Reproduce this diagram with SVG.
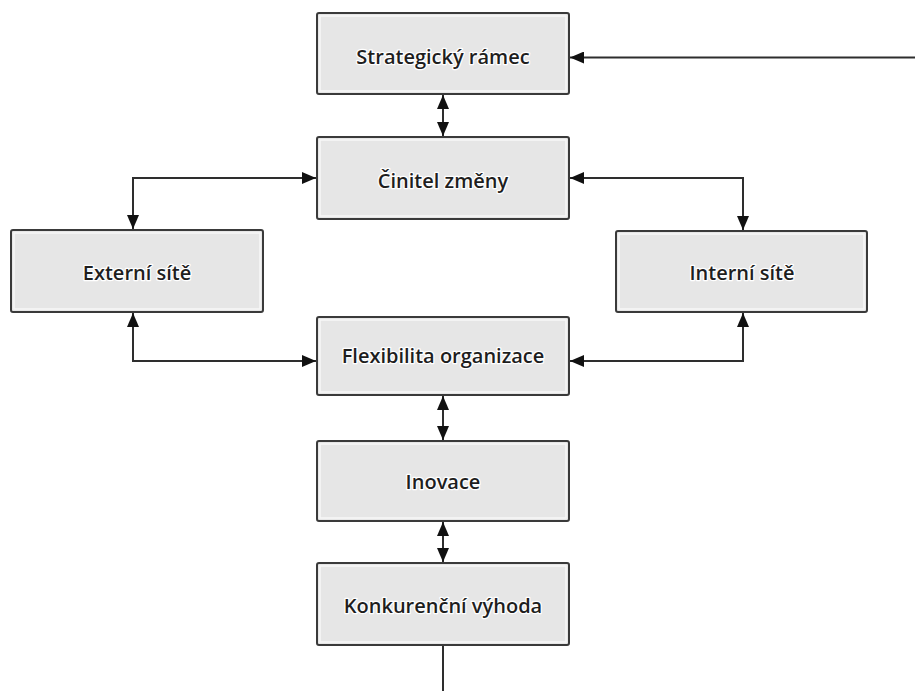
<svg xmlns="http://www.w3.org/2000/svg" width="915" height="691" viewBox="0 0 915 691">
<style>
.box{fill:#e6e6e6;stroke:#3a3a3a;stroke-width:2}
.inner{fill:none;stroke:#f7f7f7;stroke-width:1.5}
.lbl{font-family:"Open Sans","Liberation Sans",sans-serif;font-weight:600;font-size:20px;fill:#1e1e1e;text-anchor:middle;dominant-baseline:middle;stroke:#ffffff;stroke-width:2.5;paint-order:stroke;stroke-linejoin:round}
.ln{fill:none;stroke:#2e2e2e;stroke-width:2}
</style>
<defs>
<marker id="ah" viewBox="0 0 14 12" refX="14" refY="6" markerWidth="14" markerHeight="12" markerUnits="userSpaceOnUse" orient="auto-start-reverse">
<path d="M0,0 L14,6 L0,12 z" fill="#111"/>
</marker>
</defs>
<rect width="915" height="691" fill="#ffffff"/>
<g id="connectors">
<line class="ln" x1="915" y1="57.5" x2="570" y2="57.5" marker-end="url(#ah)"/>
<line class="ln" x1="443" y1="95" x2="443" y2="136" marker-start="url(#ah)" marker-end="url(#ah)"/>
<polyline class="ln" points="316,178 133,178 133,229" marker-start="url(#ah)" marker-end="url(#ah)"/>
<polyline class="ln" points="570,178 743,178 743,230" marker-start="url(#ah)" marker-end="url(#ah)"/>
<polyline class="ln" points="133,313 133,361 316,361" marker-start="url(#ah)" marker-end="url(#ah)"/>
<polyline class="ln" points="743,313 743,361 570,361" marker-start="url(#ah)" marker-end="url(#ah)"/>
<line class="ln" x1="443" y1="396" x2="443" y2="440" marker-start="url(#ah)" marker-end="url(#ah)"/>
<line class="ln" x1="443" y1="522" x2="443" y2="562" marker-start="url(#ah)" marker-end="url(#ah)"/>
<line class="ln" x1="443" y1="646" x2="443" y2="691"/>
</g>
<g id="strategicky">
<rect class="box" x="317" y="13" width="252" height="81" rx="2"/>
<rect class="inner" x="320" y="16" width="246" height="75"/>
<text class="lbl" x="443" y="58.5">Strategický rámec</text>
</g>
<g id="cinitel">
<rect class="box" x="317" y="137" width="252" height="82" rx="2"/>
<rect class="inner" x="320" y="140" width="246" height="76"/>
<text class="lbl" x="443" y="182.5">Činitel změny</text>
</g>
<g id="externi">
<rect class="box" x="11" y="230" width="252" height="82" rx="2"/>
<rect class="inner" x="14" y="233" width="246" height="76"/>
<text class="lbl" x="137" y="274.5">Externí sítě</text>
</g>
<g id="interni">
<rect class="box" x="616" y="231" width="251" height="81" rx="2"/>
<rect class="inner" x="619" y="234" width="245" height="75"/>
<text class="lbl" x="742" y="274.5">Interní sítě</text>
</g>
<g id="flexibilita">
<rect class="box" x="317" y="317" width="252" height="78" rx="2"/>
<rect class="inner" x="320" y="320" width="246" height="72"/>
<text class="lbl" x="443" y="357.5">Flexibilita organizace</text>
</g>
<g id="inovace">
<rect class="box" x="317" y="441" width="252" height="80" rx="2"/>
<rect class="inner" x="320" y="444" width="246" height="74"/>
<text class="lbl" x="443" y="483.5">Inovace</text>
</g>
<g id="konkurencni">
<rect class="box" x="317" y="563" width="252" height="82" rx="2"/>
<rect class="inner" x="320" y="566" width="246" height="76"/>
<text class="lbl" x="443" y="607.5">Konkurenční výhoda</text>
</g>
</svg>
